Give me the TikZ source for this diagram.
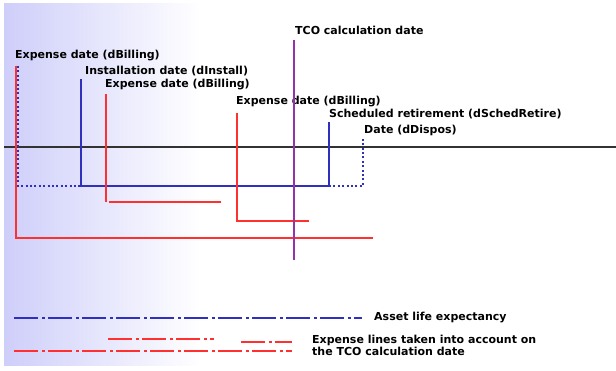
\documentclass[tikz,border=0pt]{standalone}
\usepackage{fontspec}
\setmainfont{DejaVu Sans}
\definecolor{lavender}{RGB}{206,206,250}
\definecolor{billred}{RGB}{255,48,48}
\definecolor{lifeblue}{RGB}{48,48,190}
\definecolor{tcopurple}{RGB}{150,50,170}
\definecolor{axisgray}{RGB}{50,50,50}
\begin{document}
\begin{tikzpicture}[x=1pt, y=-1pt,
    every node/.style={font=\bfseries\fontsize{11}{12}\selectfont, inner sep=0pt, anchor=west, align=left},
    billline/.style={draw=billred, line width=2pt},
    lifeline/.style={draw=lifeblue, line width=2pt},
    dotline/.style={draw=lifeblue, line width=2pt, dash pattern=on 2pt off 2.4pt},
    dashdot/.style={line width=2pt, dash pattern=on 24pt off 4pt on 3pt off 3pt}]
    \useasboundingbox (0,0) rectangle (616,371);
    % background
    \shade[left color=lavender, right color=white] (4,4) rectangle (200,366);

    % labels of the dates
    \node (billfirst) at (15,56) {Expense date (dBilling)};
    \node (install) at (85,71) {Installation date (dInstall)};
    \node (billsecond) at (105,85) {Expense date (dBilling)};
    \node (billthird) at (236,102) {Expense date (dBilling)};
    \node (tcodate) at (295,30) {TCO calculation date};
    \node (retire) at (329,114) {Scheduled retirement (dSchedRetire)};
    \node (dispos) at (364,130) {Date (dDispos)};

    % time axis
    \draw[axisgray, line width=2pt] (4,147) -- (616,147);

    % asset life
    \draw[dotline] (18,66) -- (18,186) -- (81,186);
    \draw[lifeline] (81,79) -- (81,186) -- (329,186) -- (329,122);
    \draw[dotline] (329,186) -- (363,186) -- (363,137);

    % expense lines
    \draw[billline] (16,66) -- (16,238) -- (373,238);
    \draw[billline] (106,94) -- (106,202);
    \draw[billline] (109,202) -- (221,202);
    \draw[billline] (237,113) -- (237,221) -- (309,221);

    % TCO calculation date
    \draw[tcopurple, line width=2pt] (294,40) -- (294,260);

    % legend
    \draw[dashdot, lifeblue] (14,318) -- (362,318);
    \node (lifelegend) at (374,318) {Asset life expectancy};
    \draw[dashdot, billred] (108,339) -- (214,339);
    \draw[dashdot, billred] (241,342) -- (292,342);
    \draw[dashdot, billred] (14,351) -- (292,351);
    \node (billlegend) at (312,345) {Expense lines taken into account on\\the TCO calculation date};
\end{tikzpicture}
\end{document}
